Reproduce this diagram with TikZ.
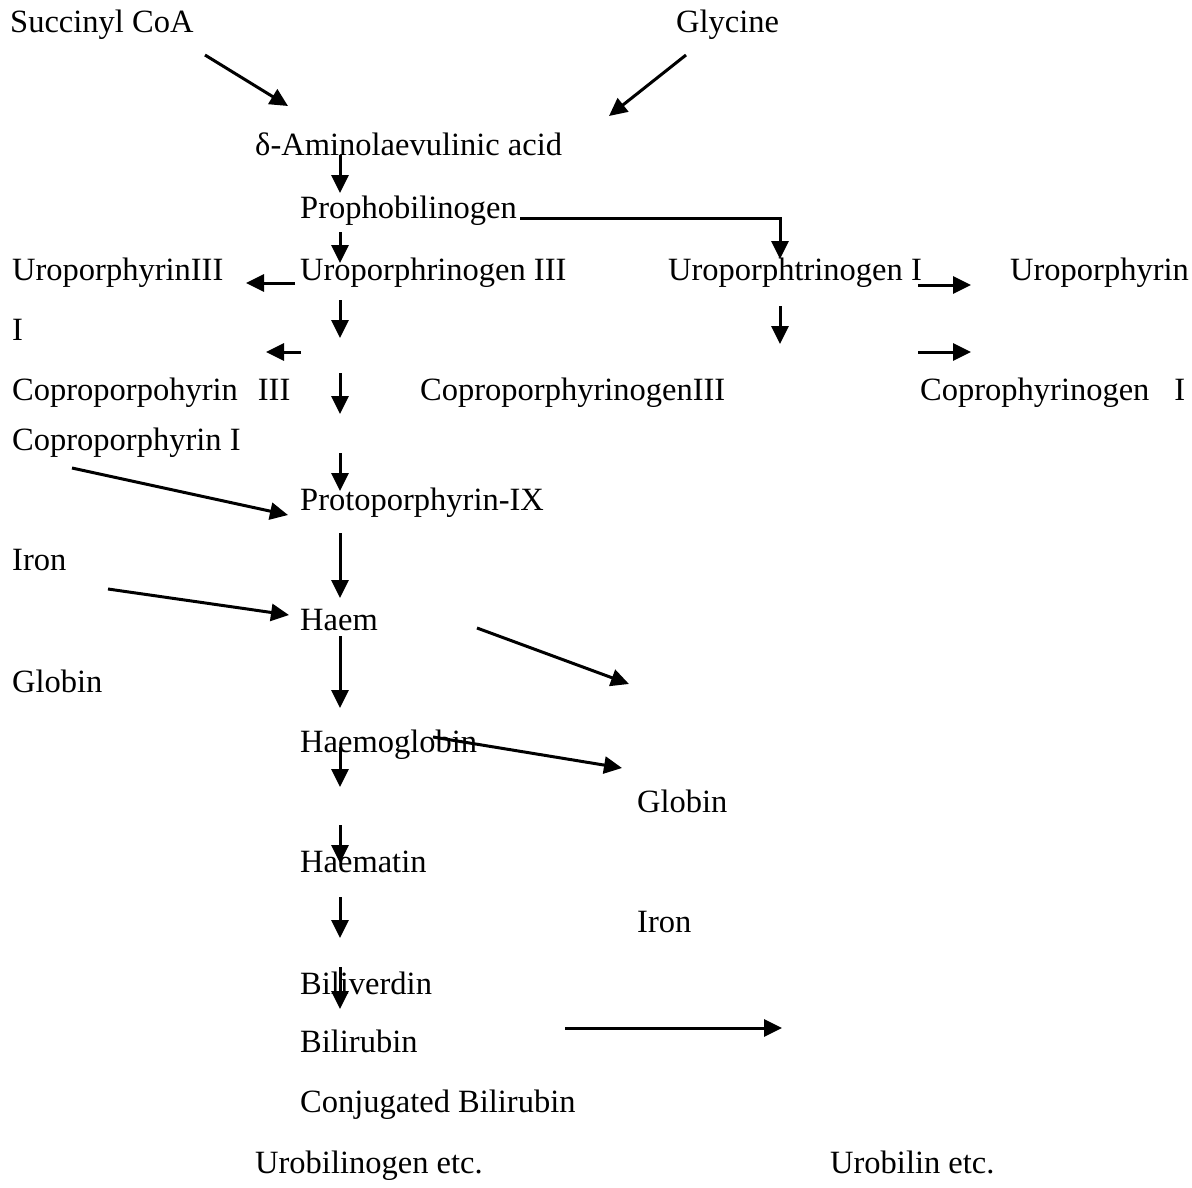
\documentclass[tikz,border=0pt]{standalone}
\usepackage{fontspec}
\setmainfont{Liberation Serif}
\usetikzlibrary{arrows.meta}
\tikzset{
  lbl/.style={anchor=base west,inner sep=0pt,font=\fontsize{32.5}{39}\selectfont},
  arr/.style={-{Triangle[width=17pt,length=18pt]},line width=3pt},
}

\begin{document}
\begin{tikzpicture}[x=1pt,y=-1pt]
		% border
		\useasboundingbox (0,0) rectangle (1192,1187);

		% substances
		\node[lbl] (succ) at (10,32) {Succinyl CoA};
		\node[lbl] (gly) at (676,32) {Glycine};
		\node[lbl] (ala) at (255,155) {δ-Aminolaevulinic acid};
		\node[lbl] (pbg) at (300,218) {Prophobilinogen};
		\node[lbl] (uroIII) at (12,280) {UroporphyrinIII};
		\node[lbl] (urogenIII) at (300,280) {Uroporphrinogen III};
		\node[lbl] (urogenI) at (668,280) {Uroporphtrinogen I};
		\node[lbl] (uroI) at (1010,280) {Uroporphyrin};
		\node[lbl] (uroIb) at (12,340) {I};
		\node[lbl] (coproIII) at (12,400) {Coproporpohyrin\hspace{20pt}III};
		\node[lbl] (coprogenIII) at (420,400) {CoproporphyrinogenIII};
		\node[lbl] (coprogenI) at (920,400) {Coprophyrinogen\hspace{25pt}I};
		\node[lbl] (coproI) at (12,450) {Coproporphyrin I};
		\node[lbl] (proto) at (300,510) {Protoporphyrin-IX};
		\node[lbl] (iron) at (12,570) {Iron};
		\node[lbl] (haem) at (300,630) {Haem};
		\node[lbl] (globin) at (12,692) {Globin};
		\node[lbl] (hb) at (300,752) {Haemoglobin};
		\node[lbl] (globinb) at (637,812) {Globin};
		\node[lbl] (haematin) at (300,872) {Haematin};
		\node[lbl] (ironb) at (637,932) {Iron};
		\node[lbl] (bv) at (300,994) {Biliverdin};
		\node[lbl] (br) at (300,1052) {Bilirubin};
		\node[lbl] (cbr) at (300,1112) {Conjugated Bilirubin};
		\node[lbl] (ubg) at (255,1173) {Urobilinogen etc.};
		\node[lbl] (ub) at (830,1173) {Urobilin etc.};

		% arrow ends
		\coordinate (a1) at (205,55);   \coordinate (b1) at (288,106);
		\coordinate (a2) at (686,55);   \coordinate (b2) at (609,116);
		\coordinate (a3) at (340,155);  \coordinate (b3) at (340,193);
		\coordinate (a4) at (520,218);  \coordinate (k4) at (780,218);  \coordinate (b4) at (780,259);
		\coordinate (a5) at (340,232);  \coordinate (b5) at (340,263);
		\coordinate (a6) at (295,283);  \coordinate (b6) at (246,283);
		\coordinate (a7) at (340,300);  \coordinate (b7) at (340,338);
		\coordinate (a8) at (780,306);  \coordinate (b8) at (780,344);
		\coordinate (a9) at (918,285);  \coordinate (b9) at (971,285);
		\coordinate (a10) at (301,352); \coordinate (b10) at (266,352);
		\coordinate (a11) at (918,352); \coordinate (b11) at (971,352);
		\coordinate (a12) at (340,373); \coordinate (b12) at (340,414);
		\coordinate (a13) at (340,453); \coordinate (b13) at (340,491);
		\coordinate (a14) at (72,468);  \coordinate (b14) at (288,515);
		\coordinate (a15) at (340,533); \coordinate (b15) at (340,598);
		\coordinate (a16) at (108,589); \coordinate (b16) at (289,615);
		\coordinate (a17) at (340,636); \coordinate (b17) at (340,708);
		\coordinate (a18) at (477,628); \coordinate (b18) at (629,684);
		\coordinate (a19) at (340,747); \coordinate (b19) at (340,787);
		\coordinate (a20) at (433,737); \coordinate (b20) at (622,768);
		\coordinate (a21) at (340,825); \coordinate (b21) at (340,863);
		\coordinate (a22) at (340,897); \coordinate (b22) at (340,938);
		\coordinate (a23) at (340,967); \coordinate (b23) at (340,1009);
		\coordinate (a24) at (565,1028); \coordinate (b24) at (782,1028);

		% arrows
		\draw[arr] (a1) -- (b1);
		\draw[arr] (a2) -- (b2);
		\draw[arr] (a3) -- (b3);
		\draw[arr] (a4) -- (k4) -- (b4);
		\draw[arr] (a5) -- (b5);
		\draw[arr] (a6) -- (b6);
		\draw[arr] (a7) -- (b7);
		\draw[arr] (a8) -- (b8);
		\draw[arr] (a9) -- (b9);
		\draw[arr] (a10) -- (b10);
		\draw[arr] (a11) -- (b11);
		\draw[arr] (a12) -- (b12);
		\draw[arr] (a13) -- (b13);
		\draw[arr] (a14) -- (b14);
		\draw[arr] (a15) -- (b15);
		\draw[arr] (a16) -- (b16);
		\draw[arr] (a17) -- (b17);
		\draw[arr] (a18) -- (b18);
		\draw[arr] (a19) -- (b19);
		\draw[arr] (a20) -- (b20);
		\draw[arr] (a21) -- (b21);
		\draw[arr] (a22) -- (b22);
		\draw[arr] (a23) -- (b23);
		\draw[arr] (a24) -- (b24);
\end{tikzpicture}
\end{document}
